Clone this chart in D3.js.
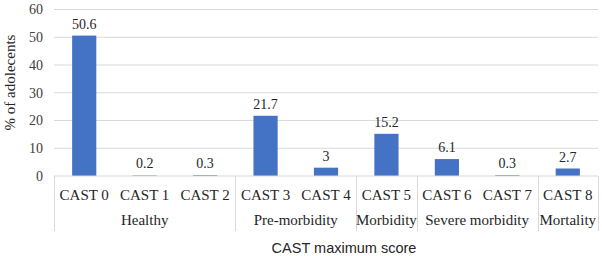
<!DOCTYPE html>
<html><head><meta charset="utf-8">
<script src="https://cdn.jsdelivr.net/npm/d3@7"></script>
<style>body{margin:0;background:#fff} .serif{font-family:"Liberation Serif","Times New Roman","Tinos","DejaVu Serif","Noto Serif",serif}</style>
</head><body>
<svg id="chart" width="602" height="256"></svg>
<script>
const categories = ["CAST 0","CAST 1","CAST 2","CAST 3","CAST 4","CAST 5","CAST 6","CAST 7","CAST 8"];
const values = [50.6,0.2,0.3,21.7,3,15.2,6.1,0.3,2.7];
const valueLabels = ["50.6","0.2","0.3","21.7","3","15.2","6.1","0.3","2.7"];
const groupNames = ["Healthy","Pre-morbidity","Morbidity","Severe morbidity","Mortality"];
const groupSizes = [3,2,1,2,1];
const yTicks = [0,10,20,30,40,50,60];
const yTitle = "% of adolecents";
const xTitle = "CAST maximum score";

const svg = d3.select("#chart");
const left = 54, right = 598, y0 = 176, yTop = 9.5;

const x = d3.scaleBand().domain(categories).range([left, right]).paddingInner(0.6).paddingOuter(0.3);
const y = d3.scaleLinear().domain([0,60]).range([y0, yTop]);

// gridlines
svg.append("g").selectAll("line").data(yTicks.filter(d=>d>0)).join("line")
  .attr("x1", left).attr("x2", right)
  .attr("y1", d=>y(d)).attr("y2", d=>y(d))
  .attr("stroke", "#d9d9d9").attr("stroke-width", 1);

// y axis labels
const yAxis = d3.axisLeft(y).tickValues(yTicks).tickSize(0).tickPadding(11);
const ya = svg.append("g").attr("transform", `translate(${left},0)`).call(yAxis);
ya.attr("font-family", null).attr("font-size", null);
ya.select(".domain").remove();
ya.selectAll("text").attr("class", "serif").style("font-size", "14px").attr("fill", "#404040");

// bars
svg.append("g").selectAll("rect").data(values).join("rect")
  .attr("x", (d,i)=>x(categories[i]))
  .attr("width", x.bandwidth())
  .attr("y", d=>y(d))
  .attr("height", d=>y0 - y(d))
  .attr("fill", "#4472c4");

// data labels
svg.append("g").selectAll("text").data(values).join("text")
  .attr("class", "serif")
  .attr("x", (d,i)=>x(categories[i]) + x.bandwidth()/2)
  .attr("y", d=>y(d) - 7)
  .attr("text-anchor", "middle")
  .style("font-size", "14px").attr("fill", "#262626")
  .text((d,i)=>valueLabels[i]);

// x axis baseline
svg.append("line").attr("x1", left).attr("x2", right).attr("y1", y0).attr("y2", y0)
  .attr("stroke", "#d9d9d9").attr("stroke-width", 1);

// category labels
svg.append("g").selectAll("text").data(categories).join("text")
  .attr("class", "serif")
  .attr("x", d=>x(d) + x.bandwidth()/2)
  .attr("y", 200)
  .attr("text-anchor", "middle")
  .style("font-size", "15px").attr("fill", "#262626")
  .text(d=>d);

// group boundaries
const step = x.step();
let idx = 0;
const groups = groupNames.map((name,i)=>{
  const start = x(categories[idx]) - step*x.paddingInner()/2;
  const endCat = categories[idx + groupSizes[i] - 1];
  const end = x(endCat) + x.bandwidth() + step*x.paddingInner()/2;
  idx += groupSizes[i];
  return {name, start, end};
});
groups[0].start = left; groups[groups.length-1].end = right;
const sepX = [groups[0].start].concat(groups.map(g=>g.end));
svg.append("g").selectAll("line").data(sepX).join("line")
  .attr("x1", d=>Math.round(d)+0.5).attr("x2", d=>Math.round(d)+0.5)
  .attr("y1", y0).attr("y2", 231)
  .attr("stroke", "#d9d9d9").attr("stroke-width", 1);

svg.append("g").selectAll("text").data(groups).join("text")
  .attr("class", "serif")
  .attr("x", d=>(d.start+d.end)/2)
  .attr("y", 225)
  .attr("text-anchor", "middle")
  .style("font-size", "15px").attr("fill", "#262626")
  .text(d=>d.name);

// axis titles
svg.append("text").attr("x", 344).attr("y", 252.5).attr("text-anchor", "middle")
  .style("font-family", "'Liberation Sans',Arial,sans-serif").style("font-size", "14.5px").attr("fill", "#262626")
  .text(xTitle);
svg.append("text").attr("class", "serif").attr("transform", "translate(15,82.5) rotate(-90)").attr("text-anchor", "middle")
  .style("font-size", "15px").attr("fill", "#262626")
  .text(yTitle);
</script>
</body></html>
